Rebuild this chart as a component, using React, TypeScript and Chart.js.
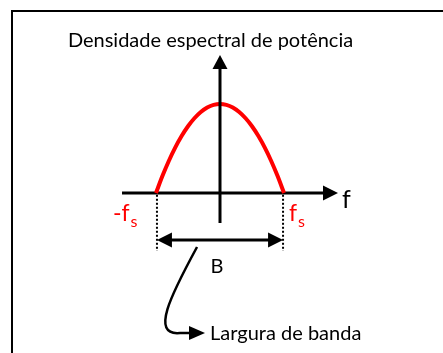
import { useEffect, useRef } from "react";
import { Chart, registerables } from "chart.js";

Chart.register(...registerables);

// ---- data (frequency normalised to fs = 1, PSD normalised to its peak) ----
const freq = [-1, -0.9, -0.8, -0.7, -0.6, -0.5, -0.4, -0.3, -0.2, -0.1, 0, 0.1, 0.2, 0.3, 0.4, 0.5, 0.6, 0.7, 0.8, 0.9, 1];
const psd = [0, 0.19, 0.36, 0.51, 0.64, 0.75, 0.84, 0.91, 0.96, 0.99, 1, 0.99, 0.96, 0.91, 0.84, 0.75, 0.64, 0.51, 0.36, 0.19, 0];

const titleText = "Densidade espectral de potência";
const axisLabel = "f";
const edgeMain = "f";
const edgeSub = "s";
const bandLabel = "B";
const bandText = "Largura de banda";

const RED = "#ff0000";
const BLACK = "#000000";
const FONT = "Lato";

function arrowHead(ctx: CanvasRenderingContext2D, tx: number, ty: number, angle: number, len: number, half: number) {
  ctx.save();
  ctx.translate(tx, ty);
  ctx.rotate(angle);
  ctx.beginPath();
  ctx.moveTo(0, 0);
  ctx.lineTo(-len, -half);
  ctx.lineTo(-len, half);
  ctx.closePath();
  ctx.fill();
  ctx.restore();
}

const axesPlugin = {
  id: "psdAxes",
  beforeDatasetsDraw(chart: any) {
    const { ctx, scales } = chart;
    const X = (v: number) => scales.x.getPixelForValue(v);
    const Y = (v: number) => scales.y.getPixelForValue(v);
    ctx.save();
    ctx.strokeStyle = BLACK;
    ctx.fillStyle = BLACK;
    ctx.lineWidth = 3;
    // horizontal frequency axis
    ctx.beginPath();
    ctx.moveTo(X(-1.531), Y(0));
    ctx.lineTo(X(1.844) - 10, Y(0));
    ctx.stroke();
    arrowHead(ctx, X(1.844), Y(0), 0, 15, 7.5);
    ctx.restore();
  },
  afterDatasetsDraw(chart: any) {
    const { ctx, scales } = chart;
    const X = (v: number) => scales.x.getPixelForValue(v);
    const Y = (v: number) => scales.y.getPixelForValue(v);
    ctx.save();
    ctx.strokeStyle = BLACK;
    ctx.fillStyle = BLACK;
    ctx.lineWidth = 3;
    // vertical axis
    ctx.beginPath();
    ctx.moveTo(X(0), Y(-0.337));
    ctx.lineTo(X(0), Y(1.551) + 10);
    ctx.stroke();
    arrowHead(ctx, X(0), Y(1.551), -Math.PI / 2, 14, 7.5);

    // dotted verticals at +-fs
    ctx.lineWidth = 2;
    ctx.setLineDash([2, 2]);
    [-0.985, 0.985].forEach((fx) => {
      ctx.beginPath();
      ctx.moveTo(X(fx), Y(-0.02));
      ctx.lineTo(X(fx), Y(-0.652));
      ctx.stroke();
    });
    ctx.setLineDash([]);

    // bandwidth double arrow
    ctx.lineWidth = 3;
    const by = Y(-0.528);
    ctx.beginPath();
    ctx.moveTo(X(-0.985) + 10, by);
    ctx.lineTo(X(0.985) - 10, by);
    ctx.stroke();
    arrowHead(ctx, X(-0.985), by, Math.PI, 15, 7.5);
    arrowHead(ctx, X(0.985), by, 0, 15, 7.5);

    // curved pointer
    ctx.lineWidth = 2.5;
    ctx.beginPath();
    ctx.moveTo(X(-0.359), Y(-0.607));
    ctx.bezierCurveTo(X(-0.766), Y(-1.146), X(-1.094), Y(-1.607), X(-0.625), Y(-1.573));
    ctx.lineTo(X(-0.234) - 10, Y(-1.573));
    ctx.stroke();
    arrowHead(ctx, X(-0.234), Y(-1.573), 0, 16, 7);

    // texts
    ctx.textBaseline = "alphabetic";
    ctx.fillStyle = BLACK;
    ctx.font = `20px ${FONT}`;
    ctx.textAlign = "center";
    ctx.fillText(titleText, X(-0.148), Y(1.64));

    ctx.textAlign = "left";
    ctx.font = `25px ${FONT}`;
    ctx.fillText(axisLabel, X(1.906), Y(-0.169));

    ctx.font = `20px ${FONT}`;
    ctx.textAlign = "center";
    ctx.fillText(bandLabel, X(-0.047), Y(-0.9));

    ctx.textAlign = "left";
    ctx.fillText(bandText, X(-0.156), Y(-1.652));

    // +-fs labels
    ctx.fillStyle = RED;
    const drawEdge = (xv: number, prefix: string) => {
      ctx.font = `23px ${FONT}`;
      const full = prefix + edgeMain;
      ctx.fillText(full, X(xv), Y(-0.315));
      const w = ctx.measureText(full).width;
      ctx.font = `16px ${FONT}`;
      ctx.fillText(edgeSub, X(xv) + w + 1, Y(-0.38));
    };
    drawEdge(-1.672, "-");
    drawEdge(1.078, "");
    ctx.restore();
  },
};

export default function App() {
  const ref = useRef<HTMLCanvasElement | null>(null);
  useEffect(() => {
    if (!ref.current) return;
    const chart = new Chart(ref.current, {
      type: "scatter",
      data: {
        datasets: [
          {
            data: freq.map((f, i) => ({ x: f, y: psd[i] })),
            showLine: true,
            borderColor: RED,
            borderWidth: 4,
            pointRadius: 0,
            cubicInterpolationMode: "monotone",
            fill: false,
          },
        ],
      },
      options: {
        animation: false,
        responsive: false,
        devicePixelRatio: 1,
        layout: { padding: 0 },
        plugins: { legend: { display: false }, title: { display: false }, tooltip: { enabled: false } },
        scales: {
          x: { type: "linear", min: -220 / 64, max: 223 / 64, display: false },
          y: { type: "linear", min: -160 / 89, max: 193 / 89, display: false },
        },
      },
      plugins: [axesPlugin],
    });
    return () => chart.destroy();
  }, []);
  return (
    <div style={{ position: "fixed", left: 0, top: 0, width: 443, height: 353, background: "#fff" }}>
      <canvas ref={ref} width={443} height={353} style={{ position: "absolute", left: 0, top: 0 }} />
      <div
        style={{
          position: "absolute",
          left: 11,
          top: 10,
          right: 0,
          bottom: 0,
          borderLeft: "2px solid #000",
          borderTop: "2px solid #000",
          pointerEvents: "none",
        }}
      />
    </div>
  );
}
